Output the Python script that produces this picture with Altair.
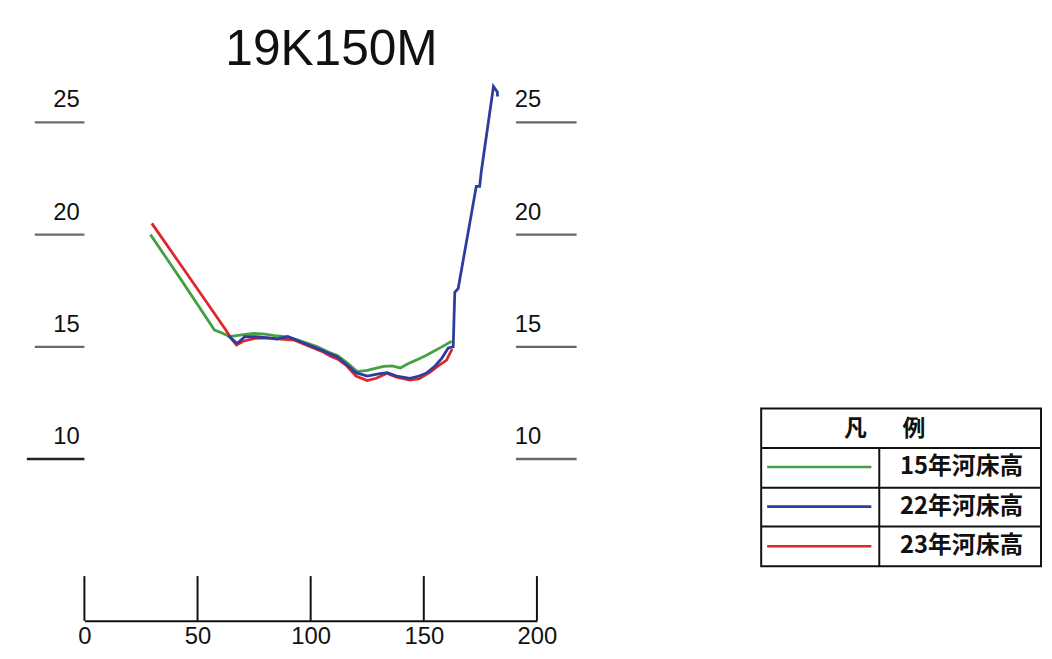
import altair as alt
import pandas as pd

title_text = "19K150M"
series_names = ["15年河床高", "22年河床高", "23年河床高"]
series_colors = ["#43a043", "#2b3d9e", "#e0252e"]
legend_title = ["凡", "例"]

# 15年河床高 (green)
x15 = [29.2, 43.0, 57.5, 60.0, 64.3, 69.4, 75.0, 79.7, 84.0, 88.5, 93.0, 98.7, 103.0,
       109.0, 112.0, 116.0, 120.6, 125.0, 129.0, 132.3, 136.0, 139.6, 143.0, 147.0,
       151.0, 154.2, 158.0, 162.3]
y15 = [20.0, 17.95, 15.75, 15.65, 15.46, 15.53, 15.6, 15.57, 15.5, 15.46, 15.35, 15.16, 15.0,
       14.72, 14.6, 14.3, 13.9, 13.95, 14.05, 14.13, 14.15, 14.06, 14.25, 14.43,
       14.62, 14.79, 15.0, 15.25]

# 22年河床高 (blue)
x22 = [63.6, 67.5, 70.9, 76.0, 81.0, 85.0, 89.9, 95.0, 100.0, 106.0, 111.8, 116.0, 120.0,
       125.0, 130.0, 133.8, 138.0, 143.9, 148.0, 151.3, 155.0, 158.0, 160.8, 163.0,
       163.7, 165.2, 173.2, 174.7, 175.4, 180.8, 182.5, 182.6]
y22 = [15.5, 15.15, 15.45, 15.45, 15.4, 15.35, 15.46, 15.25, 15.05, 14.8, 14.55, 14.2, 13.85,
       13.7, 13.8, 13.85, 13.7, 13.6, 13.7, 13.84, 14.15, 14.5, 14.95, 15.0,
       17.43, 17.6, 22.15, 22.15, 22.8, 26.6, 26.35, 26.15]

# 23年河床高 (red)
x23 = [29.8, 45.0, 62.5, 65.0, 67.2, 70.2, 75.3, 81.0, 87.0, 92.8, 100.1, 105.0, 109.0,
       112.0, 116.0, 120.0, 125.0, 129.0, 133.8, 138.0, 143.9, 148.0, 152.8, 157.0,
       160.0, 162.5]
y23 = [20.5, 18.3, 15.75, 15.35, 15.08, 15.25, 15.38, 15.4, 15.34, 15.3, 15.0, 14.8, 14.57,
       14.45, 14.15, 13.7, 13.5, 13.6, 13.82, 13.65, 13.52, 13.58, 13.88, 14.2,
       14.4, 14.9]

y_ticks = [10, 15, 20, 25]
x_ticks = [0, 50, 100, 150, 200]

NARROW = "Liberation Sans, Arial, sans-serif"
CJK = "Noto Sans CJK JP"

X = alt.X("x:Q", scale=alt.Scale(domain=[0, 200], nice=False, zero=False),
          axis=alt.Axis(values=x_ticks, title=None, grid=False, ticks=False,
                        domainColor="#111111", domainWidth=2, labelFontSize=24,
                        labelFont=NARROW, labelColor="#111111", labelPadding=4,
                        format="d", labelFlush=False))
Y = alt.Y("y:Q", scale=alt.Scale(domain=[2.8, 27.2], nice=False, zero=False), axis=None)

def series_df(xs, ys, name):
    return pd.DataFrame({"x": xs, "y": ys, "series": name, "order": range(len(xs))})

layers = []
for xs, ys, name, col in [(x15, y15, series_names[0], series_colors[0]),
                          (x23, y23, series_names[2], series_colors[2]),
                          (x22, y22, series_names[1], series_colors[1])]:
    layers.append(
        alt.Chart(series_df(xs, ys, name)).mark_line(strokeWidth=2.8, color=col)
        .encode(x=X, y=Y, order="order:Q")
    )

# bottom axis tick rules (pointing up)
xt_df = pd.DataFrame({"x": x_ticks})
layers.append(alt.Chart(xt_df).mark_rule(color="#111111", strokeWidth=2)
              .encode(x=X, y=alt.value(507), y2=alt.value(552)))

# left / right elevation marks
yt_df = pd.DataFrame({"y": y_ticks, "label": [str(v) for v in y_ticks]})
yt_upper = yt_df[yt_df["y"] > 10]
yt_low = yt_df[yt_df["y"] == 10]
layers.append(alt.Chart(yt_upper).mark_rule(color="#6a6a6a", strokeWidth=2.5)
              .encode(y=Y, x=alt.value(-50), x2=alt.value(0)))
layers.append(alt.Chart(yt_low).mark_rule(color="#222222", strokeWidth=2.5)
              .encode(y=Y, x=alt.value(-58), x2=alt.value(0)))
layers.append(alt.Chart(yt_df).mark_rule(color="#666666", strokeWidth=2.5)
              .encode(y=Y, x=alt.value(435), x2=alt.value(496)))
layers.append(alt.Chart(yt_df).mark_text(font=NARROW, fontSize=24, color="#111111",
                                         align="center", baseline="alphabetic", dy=-15)
              .encode(y=Y, x=alt.value(-18), text="label:N"))
layers.append(alt.Chart(yt_df).mark_text(font=NARROW, fontSize=24, color="#111111",
                                         align="center", baseline="alphabetic", dy=-15)
              .encode(y=Y, x=alt.value(447), text="label:N"))

# title
layers.append(alt.Chart(pd.DataFrame({"t": [title_text]}))
              .mark_text(font=NARROW, fontSize=50, color="#111111", align="center",
                         baseline="alphabetic")
              .encode(x=alt.value(249), y=alt.value(-8), text="t:N"))

# legend table
one = pd.DataFrame({"k": [0]})
layers.append(alt.Chart(one).mark_rect(fill="white", stroke="#111111", strokeWidth=2)
              .encode(x=alt.value(682), x2=alt.value(964), y=alt.value(338), y2=alt.value(497)))
for yy in [378, 418, 457]:
    layers.append(alt.Chart(one).mark_rule(color="#111111", strokeWidth=2)
                  .encode(x=alt.value(682), x2=alt.value(964), y=alt.value(yy)))
layers.append(alt.Chart(one).mark_rule(color="#111111", strokeWidth=2)
              .encode(x=alt.value(801), y=alt.value(378), y2=alt.value(497)))
for ch, xx in zip(legend_title, [777, 836]):
    layers.append(alt.Chart(pd.DataFrame({"t": [ch]}))
                  .mark_text(font=CJK, fontSize=23, fontWeight="bold", color="#111111",
                             align="center", baseline="middle")
                  .encode(x=alt.value(xx), y=alt.value(359), text="t:N"))
for i, (name, col) in enumerate(zip(series_names, series_colors)):
    yy = 397 + 40 * i
    layers.append(alt.Chart(one).mark_rule(color=col, strokeWidth=2.6)
                  .encode(x=alt.value(688), x2=alt.value(793), y=alt.value(yy)))
    layers.append(alt.Chart(pd.DataFrame({"t": [name]}))
                  .mark_text(font=CJK, fontSize=24, fontWeight="bold", color="#111111",
                             align="center", baseline="middle")
                  .encode(x=alt.value(884), y=alt.value(yy), text="t:N"))

chart = alt.layer(*layers).properties(
    width=456, height=552,
    autosize=alt.AutoSizeParams(type="none"),
    padding={"left": 77, "top": 63, "right": 511, "bottom": 28},
    background="white",
).configure_view(stroke=None)

chart.save("out.html", embed_options={"renderer": "svg", "actions": False})
